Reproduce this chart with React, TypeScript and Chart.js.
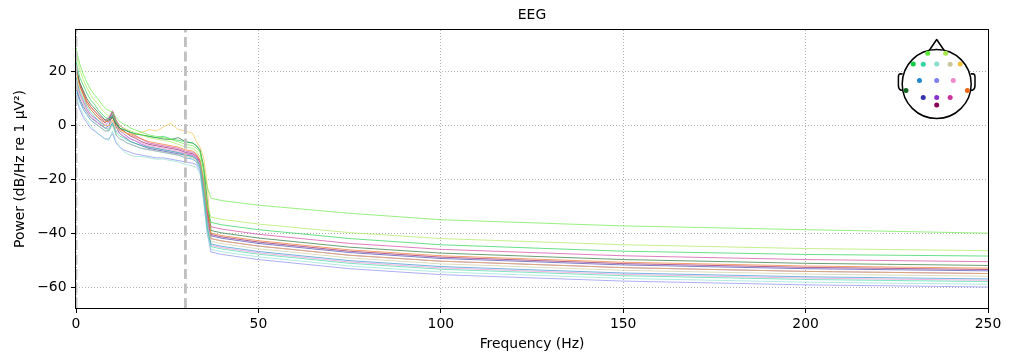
import React, { useEffect, useRef } from "react";
import { Chart, registerables } from "chart.js";

Chart.register(...registerables);

// ---------- data ----------
const FREQS = [0, 0.5, 1, 2, 3, 4, 5, 6, 7, 8, 9, 10, 11, 12, 13, 14, 15, 16, 18, 20, 22, 24, 26, 28, 30, 32, 33, 34, 35, 36, 37, 40, 50, 75, 100, 150, 200, 250];

const CH_NAMES = ["Fp1", "Fp2", "F7", "F3", "Fz", "F4", "F8", "C3", "Cz", "C4", "T7", "T8", "P3", "Pz", "P4", "Oz"];
const CH_COLORS = ["#5ee83a", "#a6e84a", "#11cc44", "#33d6a0", "#88ddcc", "#c8c89a", "#f0c040", "#2288cc", "#8080ee", "#ee88cc", "#116622", "#ee6611", "#3333aa", "#8833cc", "#cc3399", "#880055"];

const PSD_FP1 = [29, 26, 23, 19, 16, 13.5, 11.5, 10, 8, 6.5, 5.5, 5, 3, 1.5, 0.5, 0, -1, -1.5, -2.5, -3.5, -4, -4.5, -5.2, -6, -7, -7.5, -8.5, -10, -16, -23, -27, -27.9, -29.6, -32.6, -35, -37.3, -38.7, -40];
const PSD_FP2 = [27, 24, 21, 17, 14, 11.5, 9.5, 8, 6, 4.5, 3.5, 4.5, 1.5, 0, -1, -1.5, -2, -2.5, -3.5, -4.5, -5, -5.5, -6, -7, -8, -8.5, -9.5, -12, -20, -30, -34, -34.9, -36.6, -39.8, -42, -44.3, -45.7, -46.5];
const PSD_F7 = [24, 21, 18, 15, 12, 9.5, 8, 6, 4.5, 3, 2.5, 3.5, 1, -1, -1.5, -2, -2.5, -3, -3.5, -4, -4.5, -4, -5, -5.5, -6, -6.5, -7.5, -9.5, -17, -30, -36, -36.9, -38.7, -42, -44.3, -46.7, -47.9, -48.5];
const PSD_F3 = [18, 15, 13, 10, 7, 5, 3.5, 2, 0.5, -1, -1.5, 1, -2.5, -4, -4.5, -5.5, -6, -6.5, -7.5, -8, -8.5, -9, -9.5, -10, -11, -11.5, -12.5, -15, -25, -38, -45, -45.9, -47.8, -51.2, -53.4, -55.8, -57.2, -58];
const PSD_FZ = [12, 9, 7, 4, 2, 0, -1.5, -3, -4, -5, -5.5, -2, -6, -8, -9.5, -10.5, -11, -11.5, -11.5, -12, -12.5, -12.5, -13, -13.5, -14.5, -15, -15.5, -18, -28, -40, -46, -46.9, -48.8, -52.2, -54.4, -56.8, -58.2, -59];
const PSD_F4 = [16, 13, 11, 8, 5, 3, 1.5, 0, -1, -2, -2, 0, -3.5, -5, -5.5, -6.5, -7, -7.5, -8.5, -9, -9.5, -10, -10.5, -11, -11.5, -12, -13, -15, -24, -36, -43, -43.9, -45.8, -49.2, -51.4, -53.8, -55.2, -56];
const PSD_F8 = [20, 17, 14, 11, 8, 6, 4.5, 3, 1.5, 0, 0, 2, -1, -2, -2.5, -3, -3, -3.5, -2.5, -1.5, -2, -0.5, 0.8, -1.5, -2, -3, -6, -8, -12, -22, -42, -42.9, -44.8, -48.2, -50.4, -52.8, -54.2, -55];
const PSD_C3 = [14, 11, 9, 6, 4, 2, 1, 0, -1, -2, -2, 1, -3.5, -5, -5.5, -6.5, -7, -7.5, -8.5, -9, -9.5, -10, -10.5, -11, -12, -12.5, -13.5, -16, -26, -38, -44, -44.9, -46.8, -50.2, -52.4, -54.8, -56.2, -57];
const PSD_CZ = [10, 8, 6, 3, 1, -1, -2, -3, -4, -5, -5, -3, -6.5, -8, -9, -9.5, -10, -10.5, -11, -11.5, -12, -12, -12.5, -13, -13.5, -14, -14.5, -17, -28, -40, -47, -47.9, -49.8, -53.2, -55.4, -57.8, -59.2, -60];
const PSD_C4 = [17, 14, 12, 9, 6, 4, 2.5, 1, 0, -1, -1, 2, -2, -3, -4, -4.5, -5, -5.5, -6.5, -7.5, -8, -8.5, -9, -9.5, -10.5, -11, -12, -14, -22, -35, -44.5, -45.4, -47.3, -50.7, -52.9, -55.3, -56.7, -57.5];
const PSD_T7 = [22, 19, 16, 13, 10, 8, 6.5, 5, 3.5, 2, 2, 3, 0.5, -1, -1.5, -2, -2.5, -3, -3.5, -4, -4.5, -5, -5.2, -4.5, -6, -6.5, -7.5, -9, -15, -28, -39, -39.9, -41.8, -45.2, -47.4, -49.8, -51.2, -52];
const PSD_T8 = [21, 18, 15, 12, 9, 7, 5.5, 4, 2.5, 1.5, 1.5, 3, 0, -1.5, -2, -3, -3.5, -4, -5, -6, -6.5, -7, -7.5, -8, -9, -9.5, -10.5, -13, -20, -32, -40, -40.9, -42.8, -46.2, -48.4, -50.8, -52.2, -53];
const PSD_P3 = [15, 12, 10, 7, 5, 3, 2, 1, 0, -1, 0, 4, -0.5, -3, -4, -5, -6, -6.5, -7.5, -8.5, -9, -9.5, -10, -10.5, -11, -11.5, -12.5, -15, -24, -36, -41, -41.9, -43.8, -47.2, -49.4, -51.8, -53.2, -54];
const PSD_PZ = [18, 15, 12, 9, 6, 4, 3, 2, 1, 0, 1.5, 5, 1, -2, -3, -4, -5, -5.5, -7, -8, -8.5, -9, -9.5, -10, -10.5, -11, -12, -14, -23, -35, -42, -42.9, -44.8, -48.2, -50.4, -52.8, -54.2, -55];
const PSD_P4 = [23, 19, 16, 12.5, 9, 7, 5.5, 4, 3, 2, 3, 5.5, 2, 0, -1, -2, -3, -3.5, -5, -6.5, -7, -7.5, -8, -8.5, -9.5, -10, -11, -13, -21, -32, -37.6, -38.5, -40.4, -43.8, -46, -48.4, -49.8, -50.6];
const PSD_OZ = [21, 18, 15, 11.5, 8, 6, 4.5, 3, 2, 1, 2.5, 5, 1.5, -1, -2, -3, -4, -4.5, -6, -7, -7.5, -8, -8.5, -9, -10, -10.5, -11.5, -13.5, -22, -33, -40.5, -41.4, -43.3, -46.7, -48.9, -51.3, -52.7, -53.5];

const SERIES = [PSD_FP1, PSD_FP2, PSD_F7, PSD_F3, PSD_FZ, PSD_F4, PSD_F8, PSD_C3, PSD_CZ, PSD_C4, PSD_T7, PSD_T8, PSD_P3, PSD_PZ, PSD_P4, PSD_OZ];

const X_TICKS = [0, 50, 100, 150, 200, 250];
const Y_TICKS = [-60, -40, -20, 0, 20];
const X_MIN = 0;
const X_MAX = 250;
const Y_MIN = -67.8;
const Y_MAX = 35.5;
const BAND_MARKERS = [0, 30];

// sensor layout for the head inset (unit: head radius, x right, y down)
const SENSOR_X = [-0.26, 0.26, -0.68, -0.39, 0, 0.39, 0.68, -0.5, 0, 0.48, -0.89, 0.89, -0.39, 0, 0.39, 0];
const SENSOR_Y = [-0.89, -0.89, -0.58, -0.57, -0.58, -0.57, -0.58, -0.1, -0.1, -0.1, 0.19, 0.19, 0.39, 0.39, 0.39, 0.61];

const FONT = "'DejaVu Sans', sans-serif";

function withAlpha(hex: string, a: number) {
  const r = parseInt(hex.slice(1, 3), 16);
  const g = parseInt(hex.slice(3, 5), 16);
  const b = parseInt(hex.slice(5, 7), 16);
  return `rgba(${r},${g},${b},${a})`;
}

const framePlugin = {
  id: "frame",
  afterDatasetsDraw(chart: any) {
    const { ctx, chartArea } = chart;
    const { left, right, top, bottom } = chartArea;
    ctx.save();
    ctx.strokeStyle = "#000";
    ctx.lineWidth = 1;
    ctx.strokeRect(left - 0.5, top - 0.5, right - left + 1, bottom - top + 1);
    // title
    ctx.fillStyle = "#000";
    ctx.font = `13.9px ${FONT}`;
    ctx.textAlign = "center";
    ctx.textBaseline = "middle";
    ctx.fillText("EEG", (left + right) / 2, 15);
    ctx.restore();
  },
};

const headPlugin = {
  id: "head",
  afterDraw(chart: any) {
    const { ctx, chartArea } = chart;
    const r = 34.5;
    const cx = chartArea.right - 51.3;
    const cy = chartArea.top + 54;
    ctx.save();
    ctx.strokeStyle = "#000";
    ctx.lineWidth = 1.5;
    ctx.lineJoin = "round";
    // nose
    ctx.beginPath();
    ctx.moveTo(cx - 7.5, cy - r + 1);
    ctx.lineTo(cx, cy - r - 10);
    ctx.lineTo(cx + 7.5, cy - r + 1);
    ctx.stroke();
    // ears
    for (const s of [-1, 1]) {
      ctx.beginPath();
      ctx.moveTo(cx + s * (r - 0.5), cy - 10);
      ctx.lineTo(cx + s * (r + 2), cy - 10.3);
      ctx.quadraticCurveTo(cx + s * (r + 3.8), cy - 10, cx + s * (r + 3.8), cy - 7);
      ctx.lineTo(cx + s * (r + 3.8), cy + 1.5);
      ctx.quadraticCurveTo(cx + s * (r + 3.8), cy + 5, cx + s * (r + 1.5), cy + 6.2);
      ctx.lineTo(cx + s * (r - 0.5), cy + 6);
      ctx.stroke();
    }
    // head circle
    ctx.beginPath();
    ctx.arc(cx, cy, r, 0, Math.PI * 2);
    ctx.fillStyle = "#fff";
    ctx.fill();
    ctx.stroke();
    // sensors
    for (let i = 0; i < SENSOR_X.length; i++) {
      ctx.beginPath();
      ctx.arc(cx + SENSOR_X[i] * r, cy + SENSOR_Y[i] * r, 2.5, 0, Math.PI * 2);
      ctx.fillStyle = CH_COLORS[i];
      ctx.fill();
    }
    ctx.restore();
  },
};

export default function App() {
  const ref = useRef<HTMLCanvasElement>(null);

  useEffect(() => {
    document.body.style.margin = "0";
    const canvas = ref.current;
    if (!canvas) return;

    const datasets: any[] = [];
    BAND_MARKERS.forEach((f) => {
      datasets.push({
        label: `${f} Hz`,
        data: [
          { x: f, y: Y_MIN },
          { x: f, y: Y_MAX },
        ],
        borderColor: "#bfbfbf",
        borderWidth: 2.8,
        borderDash: [10, 4.5],
        pointRadius: 0,
        clip: 0,
      });
    });
    SERIES.forEach((vals, i) => {
      datasets.push({
        label: CH_NAMES[i],
        data: FREQS.map((f, j) => ({ x: f, y: vals[j] })),
        borderColor: withAlpha(CH_COLORS[i], 0.8),
        borderWidth: 0.8,
        pointRadius: 0,
        tension: 0,
      });
    });

    const chart = new Chart(canvas, {
      type: "line",
      data: { datasets },
      plugins: [framePlugin, headPlugin],
      options: {
        animation: false,
        responsive: false,
        devicePixelRatio: 1,
        events: [],
        layout: { padding: { left: 0, right: 23, top: 30, bottom: 0 } },
        plugins: {
          legend: { display: false },
          tooltip: { enabled: false },
          title: { display: false },
        },
        scales: {
          x: {
            type: "linear",
            min: X_MIN,
            max: X_MAX,
            afterBuildTicks: (scale: any) => {
              scale.ticks = X_TICKS.map((v) => ({ value: v }));
            },
            afterFit: (scale: any) => {
              scale.height = 53;
            },
            grid: {
              color: "#b0b0b0",
              lineWidth: 1,
              drawTicks: true,
              tickLength: 5,
              tickColor: "#000",
              tickWidth: 1,
            },
            border: { display: false, dash: [1, 2] },
            ticks: {
              color: "#000",
              font: { family: FONT, size: 13.9 },
              padding: 3,
              maxRotation: 0,
              autoSkip: false,
            },
            title: {
              display: true,
              text: "Frequency (Hz)",
              color: "#000",
              font: { family: FONT, size: 13.9 },
              padding: { top: 0, bottom: 8.7 },
            },
          },
          y: {
            type: "linear",
            min: Y_MIN,
            max: Y_MAX,
            afterBuildTicks: (scale: any) => {
              scale.ticks = Y_TICKS.map((v) => ({ value: v }));
            },
            afterFit: (scale: any) => {
              scale.width = 76;
            },
            grid: {
              color: "#b0b0b0",
              lineWidth: 1,
              drawTicks: true,
              tickLength: 5,
              tickColor: "#000",
              tickWidth: 1,
            },
            border: { display: false, dash: [1, 2] },
            ticks: {
              color: "#000",
              font: { family: FONT, size: 13.9 },
              padding: 4.5,
              autoSkip: false,
              callback: (v: any) => String(v).replace("-", "\u2212"),
            },
            title: {
              display: true,
              text: "Power (dB/Hz re 1 \u00b5V\u00b2)",
              color: "#000",
              font: { family: FONT, size: 13.9 },
              padding: { top: 11.7, bottom: 0 },
            },
          },
        },
      },
    });

    return () => {
      chart.destroy();
    };
  }, []);

  return (
    <canvas
      ref={ref}
      width={1011}
      height={361}
      style={{ display: "block", width: 1011, height: 361 }}
    />
  );
}
